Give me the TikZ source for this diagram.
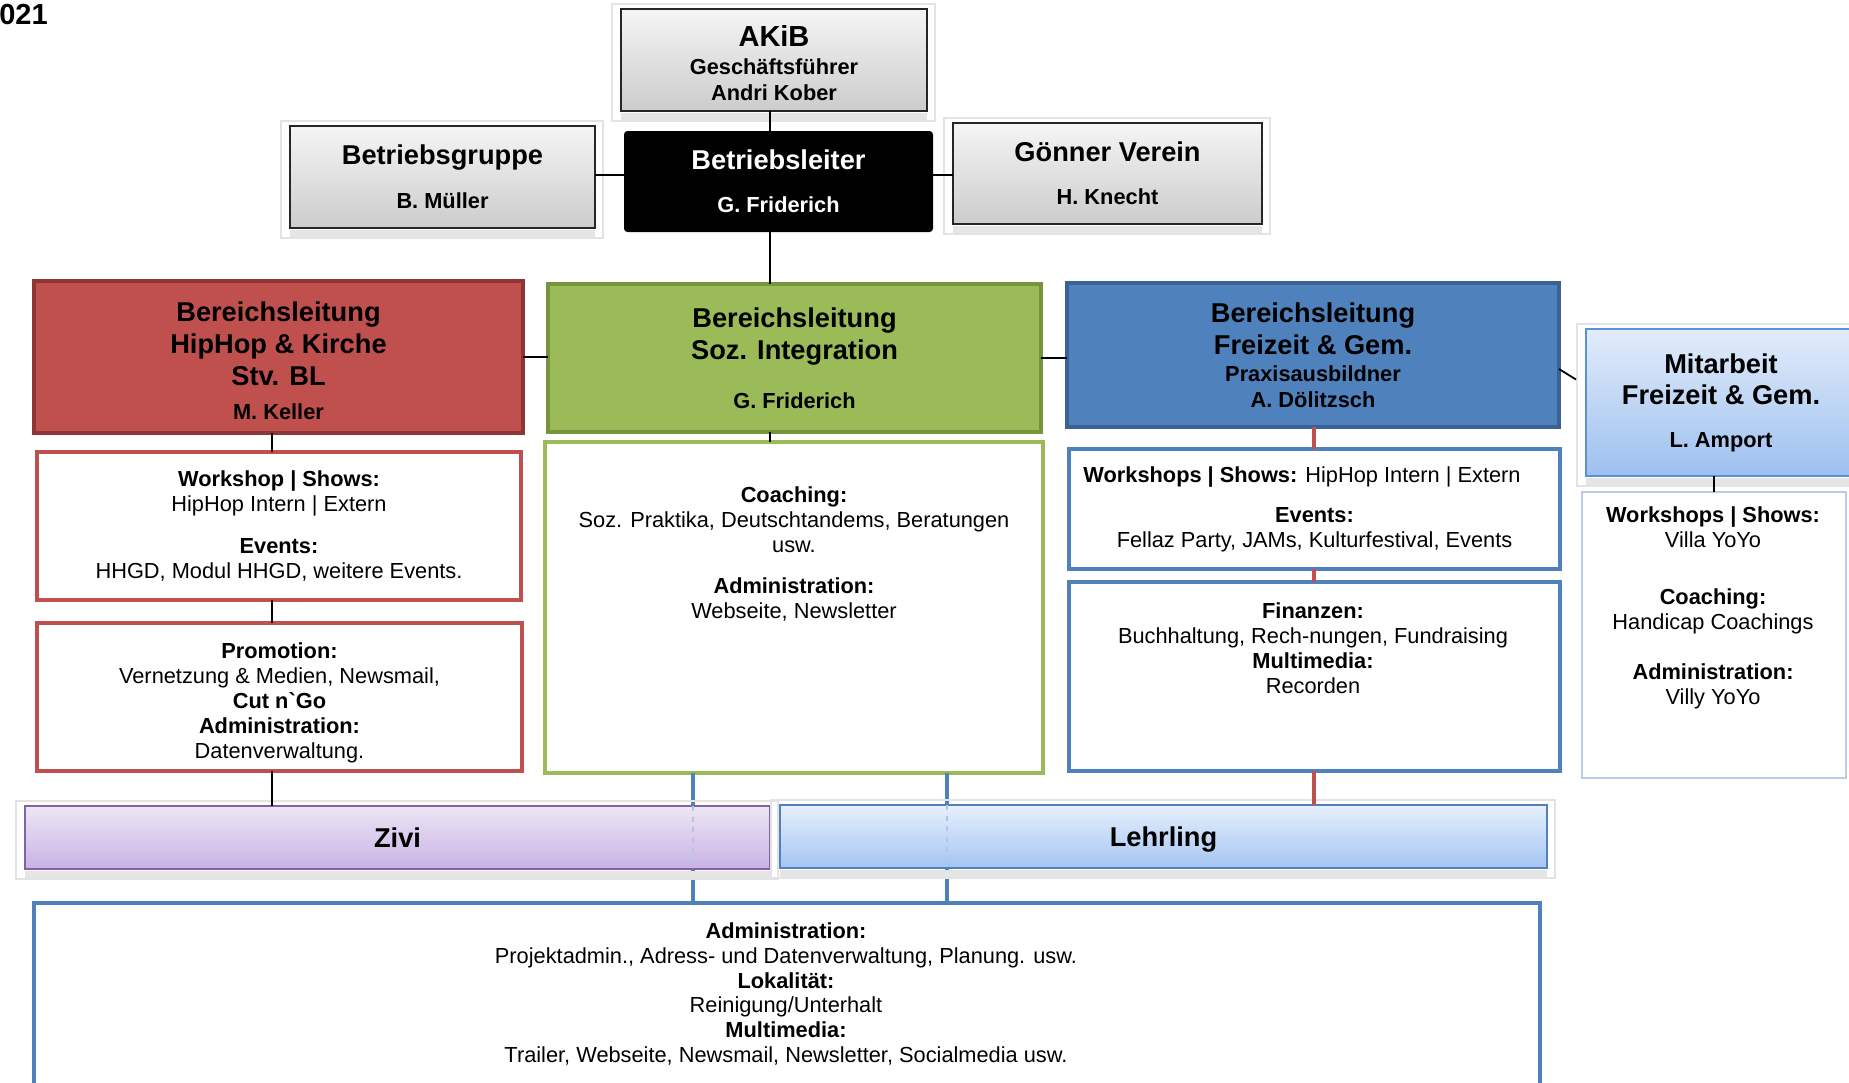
\documentclass[tikz,border=0pt]{standalone}
\usepackage{fontspec}
\setmainfont{Liberation Sans}
\newfontfamily\plainsans{Liberation Sans}
\usetikzlibrary{calc}
\definecolor{rfill}{HTML}{C0504D}
\definecolor{rdark}{HTML}{8E3634}
\definecolor{gfill}{HTML}{9BBB59}
\definecolor{gdark}{HTML}{77933C}
\definecolor{bfill}{HTML}{4F81BD}
\definecolor{bdark}{HTML}{3A6295}
\definecolor{zivitop}{HTML}{EDE6F6}
\definecolor{zivibot}{HTML}{C8B2E4}
\definecolor{zividark}{HTML}{8064A2}
\definecolor{lehtop}{HTML}{E6F0FD}
\definecolor{lehbot}{HTML}{A4C4F2}
\definecolor{mittop}{HTML}{E2ECFA}
\definecolor{mitbot}{HTML}{9DC0EF}
\definecolor{mitdark}{HTML}{5B8FD6}
\definecolor{mitborder}{HTML}{B8CCE6}
\newcommand\orgHd{\fontsize{15.5}{18.2}\selectfont\bfseries}
\newcommand\orgBody{\fontsize{12.4}{14.2}\selectfont}
\newcommand\orgSub{\fontsize{12.4}{14.2}\selectfont\bfseries}
\newcommand\orgframe[1]{%
  \draw[oframe] ($(#1.north west)+(-9,-5)$) rectangle ($(#1.south east)+(8,10)$);
  \fill[ostrip] ($(#1.south west)+(0,2)$) rectangle ($(#1.south east)+(0,9)$);}
\begin{document}
\begin{tikzpicture}[x=0.02cm, y=-0.02cm,
  sz/.style 2 args={minimum width={#1*0.02cm}, minimum height={#2*0.02cm}},
  obase/.style={inner sep=0pt, outer sep=0pt, align=center},
  graybox/.style={obase, draw=black!85, line width=1.6pt, top color=gray!8, bottom color=gray!40, font=\orgHd},
  blackbox/.style={obase, fill=black, text=white, rounded corners=2pt, font=\orgHd},
  redhead/.style={obase, fill=rfill, draw=rdark, line width=2.6pt, font=\orgHd},
  greenhead/.style={obase, fill=gfill, draw=gdark, line width=2.6pt, font=\orgHd},
  bluehead/.style={obase, fill=bfill, draw=bdark, line width=2.6pt, font=\orgHd},
  redbody/.style={obase, fill=white, draw=rfill, line width=2.4pt, font=\orgBody},
  greenbody/.style={obase, fill=white, draw=gfill, line width=2.4pt, font=\orgBody},
  bluebody/.style={obase, fill=white, draw=bfill, line width=2.4pt, font=\orgBody},
  mithead/.style={obase, top color=mittop, bottom color=mitbot, draw=mitdark, line width=1.2pt, font=\orgHd},
  mitbody/.style={obase, fill=white, draw=mitborder, line width=0.8pt, font=\orgBody},
  zivibox/.style={obase, top color=zivitop, bottom color=zivibot, draw=zividark, line width=1.4pt, font=\orgHd, text depth=0pt},
  lehbox/.style={obase, top color=lehtop, bottom color=lehbot, draw=bfill, line width=1.4pt, font=\orgHd, text depth=0pt},
  txt/.style={obase, font=\orgBody},
  hdtxt/.style={obase, font=\orgHd},
  conn/.style={draw=black, line width=1pt},
  redconn/.style={draw=rfill, line width=2.2pt},
  blueconn/.style={draw=bfill, line width=2.2pt},
  faint/.style={draw=bfill!45, line width=0.8pt, dashed},
  oframe/.style={draw=gray!22, line width=0.6pt},
  ostrip/.style={fill=gray!20}
]
\useasboundingbox (0,0) rectangle (1849,1082);
\clip (0,0) rectangle (1849,1082);

% spine coordinates
\coordinate (spine) at (770,0);
\coordinate (rspine) at (272,0);
\coordinate (bspine) at (1314,0);
\coordinate (hl) at (0,175);
\coordinate (b1) at (693,0);
\coordinate (b2) at (947,0);

% year fragment
\node[anchor=north west, inner sep=0pt, font=\fontsize{16.5}{18}\selectfont\bfseries] (yr) at (-1,4) {021};

% top level
\node[graybox, sz={306}{102}] (akib) at (774,60) {};
\node[obase, font=\orgSub] (akibt) at (774,63)
  {{\fontsize{16.5}{18}\selectfont\bfseries AKiB}\\[1.7pt]Geschäftsführer\\[0.6pt]Andri Kober};
\node[graybox, sz={305}{102}] (bg) at (442.5,177)
  {Betriebsgruppe\\[6.8pt]{\orgSub B. Müller}};
\node[blackbox, sz={309}{101}] (bl) at (778.5,181.5)
  {Betriebsleiter\\[6.3pt]{\orgSub G. Friderich}};
\node[graybox, sz={309}{101}] (gv) at (1107.5,173.5)
  {Gönner Verein\\[6.3pt]{\orgSub H. Knecht}};
\orgframe{akib}
\orgframe{bg}
\orgframe{gv}

% Bereichsleitungen
\node[redhead, sz={489}{152}] (red1) at (278.5,357) {};
\node[hdtxt] (red1t) at (278.5,360.5)
  {Bereichsleitung\\HipHop \& Kirche\\Stv. BL\\[1pt]{\orgSub M. Keller}};
\node[greenhead, sz={493}{148}] (green1) at (794.5,358)
  {Bereichsleitung\\Soz. Integration\\[9.7pt]{\orgSub G. Friderich}};
\node[bluehead, sz={492}{144}] (blue1) at (1313,355)
  {Bereichsleitung\\Freizeit \& Gem.\\[-2.8pt]{\orgSub Praxisausbildner}\\[-3.4pt]{\orgSub A. Dölitzsch}};
\node[mithead, sz={270}{147}] (mit1) at (1721,402.5)
  {Mitarbeit\\[-0.6pt]Freizeit \& Gem.\\[6.3pt]{\orgSub L. Amport}};
\orgframe{mit1}

% body boxes
\node[redbody, sz={484}{148}] (red2) at (279,526)
  {\textbf{Workshop | Shows:}\\HipHop Intern | Extern\\[9.7pt]\textbf{Events:}\\HHGD, Modul HHGD, weitere Events.};
\node[redbody, sz={485}{148}] (red3) at (279.5,697) {};
\node[txt] (red3t) at (279.5,702.5)
  {\textbf{Promotion:}\\Vernetzung \& Medien, Newsmail,\\\textbf{Cut n{\plainsans`}Go}\\\textbf{Administration:}\\Datenverwaltung.};
\node[greenbody, sz={498}{331}] (green2) at (794,607.5) {};
\node[txt] (green2t) at (794,554)
  {\textbf{Coaching:}\\Soz. Praktika, Deutschtandems, Beratungen\\usw.\\[9.6pt]\textbf{Administration:}\\Webseite, Newsletter};
\node[bluebody, sz={491}{120}] (blue2) at (1314.5,509)
  {\textbf{Workshops | Shows:} HipHop Intern | Extern\hspace*{0.5cm}\\[8.5pt]\textbf{Events:}\\Fellaz Party, JAMs, Kulturfestival, Events};
\node[bluebody, sz={491}{189}] (blue3) at (1314.5,676.5) {};
\node[txt] (blue3t) at (1313,648)
  {\textbf{Finanzen:}\\Buchhaltung, Rech-nungen, Fundraising\\\textbf{Multimedia:}\\Recorden};
\node[mitbody, sz={264}{286}] (mit2) at (1714,635) {};
\node[txt] (mit2t) at (1713,608)
  {\textbf{Workshops | Shows:}\\Villa YoYo\\[18.2pt]\textbf{Coaching:}\\Handicap Coachings\\[14.2pt]\textbf{Administration:}\\Villy YoYo};

% bottom box
\node[bluebody, sz={1506}{237}] (bottom) at (787,1021.5) {};
\node[txt] (bottomt) at (786,994)
  {\textbf{Administration:}\\Projektadmin., Adress- und Datenverwaltung, Planung. usw.\\\textbf{Lokalität:}\\Reinigung/Unterhalt\\\textbf{Multimedia:}\\Trailer, Webseite, Newsmail, Newsletter, Socialmedia usw.};

% connectors (drawn before the bars)
\draw[conn] (akib.south -| spine) -- (bl.north -| spine);
\draw[conn] (bg.east |- hl) -- (bl.west |- hl);
\draw[conn] (bl.east |- hl) -- (gv.west |- hl);
\draw[conn] (bl.south -| spine) -- (green1.north -| spine);
\draw[conn] (green1.south -| spine) -- (green2.north -| spine);
\draw[conn] (red1.east) -- (red1.east -| green1.west);
\draw[conn] (green1.east) -- (green1.east -| blue1.west);
\draw[conn] ($(blue1.east)+(0,14)$) -- ($(mit1.west)+(-10,-23)$);
\draw[conn] (mit2.north) -- (mit2.north |- mit1.south);
\draw[conn] (red1.south -| rspine) -- (red2.north -| rspine);
\draw[conn] (red2.south -| rspine) -- (red3.north -| rspine);
\draw[redconn] (blue1.south -| bspine) -- (blue2.north -| bspine);
\draw[redconn] (blue2.south -| bspine) -- (blue3.north -| bspine);
\draw[blueconn] (green2.south -| b1) -- (bottom.north -| b1);
\draw[blueconn] (green2.south -| b2) -- (bottom.north -| b2);

% Zivi / Lehrling bars
\node[zivibox, sz={745}{63}] (zivi) at (397.5,837.5) {Zivi};
\node[lehbox, sz={767}{63}] (leh) at (1163.5,836.5) {Lehrling};
\orgframe{zivi}
\orgframe{leh}
\draw[conn] (red3.south -| rspine) -- (zivi.north -| rspine);
\draw[redconn] (blue3.south -| bspine) -- (leh.north -| bspine);
\draw[faint] (zivi.north -| b1) -- (zivi.south -| b1);
\draw[faint] (leh.north -| b2) -- (leh.south -| b2);
\end{tikzpicture}
\end{document}
